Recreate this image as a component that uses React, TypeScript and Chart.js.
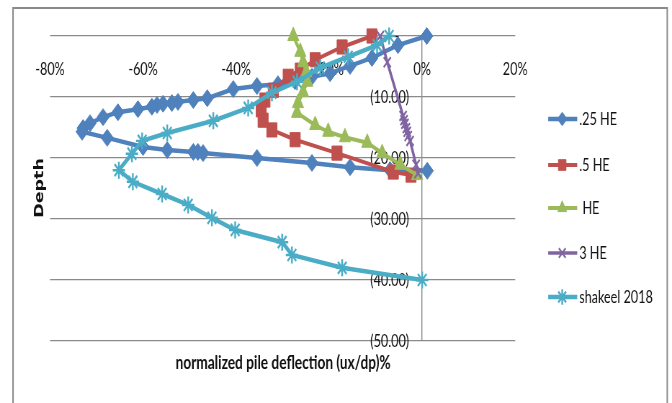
import React, { useEffect, useRef } from 'react';
import { Chart, registerables } from 'chart.js';
import { drawPoint } from 'chart.js/helpers';

Chart.register(...registerables);

// ---------- data ----------
const seriesNames = ['.25 HE', '.5 HE', ' HE', '3 HE', 'shakeel 2018'];
const seriesColors = ['#4F81BD', '#C0504D', '#9BBB59', '#8064A2', '#4BACC6'];

const he025Defl = [1, -5.2, -10.8, -15.5, -19.8, -23.7, -27.3, -31.0, -35.5, -40.6, -46.2, -49.2, -52.5, -53.8, -55.7, -57.0, -58.1, -61.1, -65.4, -68.6, -71.4, -72.9, -73.1, -67.7, -60.0, -54.8, -49.2, -48.2, -47.1, -35.5, -23.7, -15.5, -6.9, 1.1];
const he025Depth = [0, -1.5, -3.6, -4.9, -6.1, -6.7, -7.4, -7.9, -8.2, -8.7, -10.2, -10.5, -10.8, -11.0, -11.1, -11.3, -11.6, -12.0, -12.5, -13.3, -14.3, -15.1, -15.7, -16.7, -18.2, -18.7, -19.0, -19.0, -19.2, -20.0, -20.8, -21.5, -22.0, -22.1];

const he05Defl = [-10.8, -17.2, -23.0, -26.2, -28.8, -32.0, -33.8, -34.6, -34.2, -32.3, -27.3, -18.3, -6.2, -2.4];
const he05Depth = [0, -1.8, -3.9, -5.6, -6.6, -8.9, -10.5, -12.1, -13.8, -15.4, -17.0, -19.2, -22.3, -22.8];

const heDefl = [-27.7, -26.2, -25.6, -24.9, -24.7, -25.6, -26.7, -26.9, -23.0, -20.2, -16.6, -11.8, -8.6, -4.7, -1.1];
const heDepth = [0, -2.6, -4.3, -5.9, -7.5, -9.2, -11.0, -12.6, -14.6, -15.7, -16.6, -17.5, -19.2, -21.1, -22.8];

const he3Defl = [-9.0, -7.5, -4.1, -3.9, -3.7, -3.4, -3.2, -3.0, -2.6, -1.3, -0.9];
const he3Depth = [0, -4.3, -13.1, -13.8, -14.4, -15.1, -15.7, -16.4, -17.2, -21.1, -22.5];

const shakeelDefl = [-7.1, -9.7, -15.9, -21.9, -26.9, -32.3, -37.4, -44.9, -54.8, -60.2, -62.4, -65.2, -62.2, -55.9, -50.3, -45.2, -40.2, -30.1, -28.0, -17.2, 0];
const shakeelDepth = [0, -1.5, -3.4, -5.2, -7.5, -9.3, -11.8, -13.9, -15.9, -17.2, -19.3, -22.0, -23.9, -25.9, -27.7, -29.8, -31.8, -33.8, -35.9, -38.0, -40.0];

const xTickValues = [-80, -60, -40, -20, 0, 20];
const yTickValues = [0, -10, -20, -30, -40, -50];
const xTitle = 'normalized pile deflection (ux/dp)%';
const yTitle = 'Depth';

// ---------- layout / style ----------
const SQUEEZE = 0.72;
const VIEW_W = 672;
const VIEW_H = 403;
const CANVAS_W = Math.round(VIEW_W / SQUEEZE);
const sx = (px: number) => px / SQUEEZE;

const pointStyles = ['rectRot', 'rect', 'triangle', 'crossRot', 'star'];
const pointRadii = [8.5, 10, 9, 7, 8.5];
const pointBorders = [1, 1, 1, 2.2, 2.4];
const lineWidths = [4.5, 4, 4, 3.5, 4.5];
const legendRadiusScale = [0.8, 0.75, 0.8, 0.95, 0.9];
const legendRowsY = [119, 165, 208, 253, 297];

const xs = [he025Defl, he05Defl, heDefl, he3Defl, shakeelDefl];
const ys = [he025Depth, he05Depth, heDepth, he3Depth, shakeelDepth];

const FONT = "Lato, 'Open Sans', sans-serif";
const TEXT = '#111111';

const decorPlugin = {
  id: 'decor',
  beforeDraw(chart: any) {
    const ctx = chart.ctx;
    ctx.save();
    ctx.fillStyle = '#ffffff';
    ctx.fillRect(0, 0, chart.width, chart.height);
    ctx.strokeStyle = '#8a8a8a';
    ctx.lineWidth = 2;
    ctx.strokeRect(sx(13), 8, sx(667) - sx(13), 430);
    ctx.restore();
  },
  afterDraw(chart: any) {
    const ctx = chart.ctx;
    ctx.save();
    // x title
    ctx.fillStyle = TEXT;
    ctx.font = `bold 19px ${FONT}`;
    ctx.textAlign = 'center';
    ctx.textBaseline = 'middle';
    ctx.fillText(xTitle, sx(283), 363);
    // y title
    ctx.save();
    ctx.translate(sx(40), 188);
    ctx.rotate(-Math.PI / 2);
    ctx.font = "bold 17.5px 'DejaVu Sans', sans-serif";
    ctx.fillText(yTitle, 0, 0);
    ctx.restore();
    // legend
    chart.data.datasets.forEach((ds: any, i: number) => {
      const y = legendRowsY[i];
      ctx.strokeStyle = ds.borderColor;
      ctx.lineWidth = ds.borderWidth;
      ctx.lineCap = 'butt';
      ctx.beginPath();
      ctx.moveTo(sx(548), y);
      ctx.lineTo(sx(577), y);
      ctx.stroke();
      ctx.fillStyle = ds.pointBackgroundColor;
      ctx.strokeStyle = ds.pointBorderColor;
      ctx.lineWidth = ds.pointBorderWidth;
      drawPoint(ctx, { pointStyle: ds.pointStyle, rotation: 0, radius: ds.pointRadius * legendRadiusScale[i], borderWidth: ds.pointBorderWidth }, sx(562), y);
      ctx.fillStyle = TEXT;
      ctx.font = `17.5px ${FONT}`;
      ctx.textAlign = 'left';
      ctx.textBaseline = 'middle';
      ctx.fillText(seriesNames[i], sx(579), y);
    });
    ctx.restore();
  },
};

export default function App() {
  const ref = useRef<HTMLCanvasElement>(null);
  useEffect(() => {
    const datasets = seriesNames.map((name, i) => ({
      label: name,
      data: xs[i].map((x, k) => ({ x, y: ys[i][k] })),
      showLine: true,
      borderColor: seriesColors[i],
      backgroundColor: seriesColors[i],
      pointBackgroundColor: seriesColors[i],
      pointBorderColor: seriesColors[i],
      borderWidth: lineWidths[i],
      pointStyle: pointStyles[i],
      pointRadius: pointRadii[i],
      pointBorderWidth: pointBorders[i],
      tension: 0,
      clip: false as any,
      order: seriesNames.length - i,
    }));
    const chart = new Chart(ref.current as HTMLCanvasElement, {
      type: 'scatter',
      data: { datasets },
      plugins: [decorPlugin],
      options: {
        responsive: false,
        devicePixelRatio: 1,
        animation: false,
        layout: {
          padding: { left: sx(50), right: CANVAS_W - sx(515), top: 36, bottom: VIEW_H - 341 },
        },
        plugins: { legend: { display: false }, tooltip: { enabled: false } },
        scales: {
          x: {
            type: 'linear',
            axis: 'x',
            position: { y: -3.2 } as any,
            min: -80,
            max: 20,
            afterBuildTicks: (s: any) => { s.ticks = xTickValues.map((v) => ({ value: v })); },
            ticks: {
              callback: (v: any) => `${v}%`,
              color: TEXT,
              font: { family: FONT, size: 17.5 },
              padding: 3,
              maxRotation: 0,
              autoSkip: false,
            },
            grid: {
              drawTicks: false,
              lineWidth: 1.4,
              color: (c: any) => (c.tick && c.tick.value === 0 ? '#8a8a8a' : 'rgba(0,0,0,0)'),
            },
            border: { display: false },
          },
          y: {
            type: 'linear',
            axis: 'y',
            position: { x: -2.8 } as any,
            min: -50,
            max: 0,
            afterBuildTicks: (s: any) => { s.ticks = yTickValues.map((v) => ({ value: v })); },
            ticks: {
              callback: (v: any) => (v === 0 ? '-   ' : `(${Math.abs(v).toFixed(2)})`),
              color: TEXT,
              font: { family: FONT, size: 17.5 },
              autoSkip: false,
            },
            grid: { drawTicks: false, color: '#8a8a8a', lineWidth: 1.2 },
            border: { display: false },
          },
        },
      } as any,
    });
    return () => chart.destroy();
  }, []);
  return (
    <div style={{ position: 'absolute', left: 0, top: 0, width: VIEW_W, height: VIEW_H, background: '#fff', overflow: 'hidden' }}>
      <canvas ref={ref} width={CANVAS_W} height={VIEW_H} style={{ width: `${VIEW_W}px`, height: `${VIEW_H}px`, display: 'block' }} />
    </div>
  );
}
